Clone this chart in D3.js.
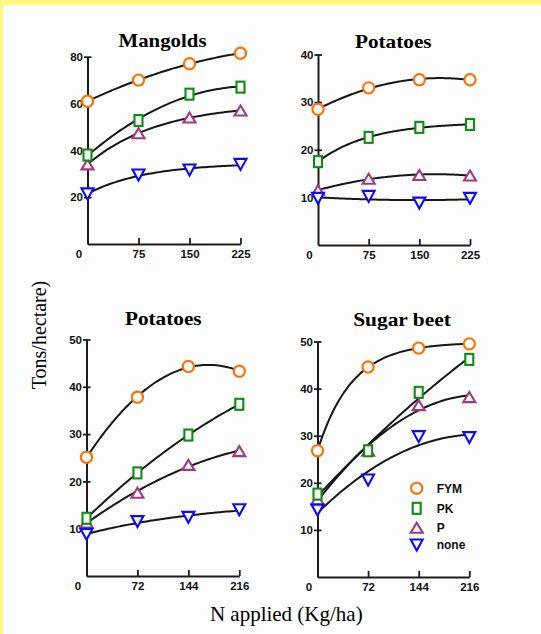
<!DOCTYPE html>
<html>
<head>
<meta charset="utf-8">
<script src="https://cdn.jsdelivr.net/npm/d3@7/dist/d3.min.js"></script>
<style>
  html, body { margin: 0; padding: 0; background: #fff; }
  svg { display: block; }
  .tick text { font-family: "Liberation Sans", Arial, sans-serif; font-weight: bold; font-size: 11.5px; fill: #111; }
</style>
</head>
<body>
<svg id="chart" width="541" height="634"></svg>
<script>
// Fertiliser treatments and their nitrogen response data (tons/hectare)
const treatments = ["FYM", "PK", "P", "none"];

const nRatesA = [0, 75, 150, 225];   // kg N/ha, first trial series
const nRatesB = [0, 72, 144, 216];   // kg N/ha, second trial series

const mangoldsFYM  = [61, 70, 77, 81.5];
const mangoldsPK   = [38, 52.7, 64, 67];
const mangoldsP    = [34, 47.3, 54, 57];
const mangoldsNone = [21.4, 29.5, 31.6, 34];

const potatoes1FYM  = [28.5, 33.0, 34.7, 34.7];
const potatoes1PK   = [17.5, 22.6, 24.7, 25.3];
const potatoes1P    = [11.5, 13.9, 14.7, 14.6];
const potatoes1None = [9.8, 10.2, 8.8, 9.8];

const potatoes2FYM  = [25.1, 37.8, 44.3, 43.3];
const potatoes2PK   = [12.2, 21.8, 29.8, 36.3];
const potatoes2P    = [11.3, 17.6, 23.5, 26.4];
const potatoes2None = [8.8, 11.5, 12.4, 14];

const sugarBeetFYM  = [26.8, 44.6, 48.6, 49.5];
const sugarBeetPK   = [17.6, 26.8, 39.2, 46.2];
const sugarBeetP    = [16.5, 26.8, 36.5, 38.2];
const sugarBeetNone = [14.2, 20.6, 29.8, 29.6];

const yTicksMangolds = [20, 40, 60, 80];
const yTicksPotatoes1 = [10, 20, 30, 40];
const yTicks50 = [10, 20, 30, 40, 50];

const colors = { FYM: "#ff6f00", PK: "#0e8c12", P: "#a03a7c", none: "#0a0aff" };

const svg = d3.select("#chart");

// page background: scanned sheet on a yellow slide
svg.append("rect").attr("width", 541).attr("height", 634).attr("fill", "#fff780");
svg.append("rect").attr("x", 3).attr("y", 5).attr("width", 538).attr("height", 629).attr("fill", "#fdfdfd");

// marker shapes, centred on their bounding box
function marker(g, kind) {
  const c = colors[kind];
  if (kind === "FYM") {
    g.append("circle").attr("r", 5.6).attr("fill", "#fff").attr("stroke", c).attr("stroke-width", 2.1);
  } else if (kind === "PK") {
    g.append("rect").attr("x", -4).attr("y", -5.5).attr("width", 8).attr("height", 11)
      .attr("fill", "#fff").attr("stroke", c).attr("stroke-width", 2.1);
  } else if (kind === "P") {
    g.append("path").attr("d", "M0,-5 L6,5 L-6,5 Z")
      .attr("fill", "#fff").attr("stroke", c).attr("stroke-width", 2.1);
  } else {
    g.append("path").attr("d", "M-6,-5.5 L6,-5.5 L0,5.5 Z")
      .attr("fill", "#fff").attr("stroke", c).attr("stroke-width", 2.1);
  }
}

// solve a small linear least-squares problem for basis functions fs
function leastSquares(xs, ys, fs) {
  const n = fs.length;
  const M = fs.map((fi) => fs.map((fj) => d3.sum(xs, x => fi(x) * fj(x))).concat([d3.sum(xs, (x, i) => fi(x) * ys[i])]));
  for (let i = 0; i < n; i++) {
    let p = i;
    for (let r = i + 1; r < n; r++) if (Math.abs(M[r][i]) > Math.abs(M[p][i])) p = r;
    [M[i], M[p]] = [M[p], M[i]];
    for (let r = 0; r < n; r++) {
      if (r === i) continue;
      const f = M[r][i] / M[i][i];
      for (let k = i; k <= n; k++) M[r][k] -= f * M[i][k];
    }
  }
  const coef = M.map((row, i) => row[n] / row[i]);
  const model = x => d3.sum(fs, (f, i) => coef[i] * f(x));
  const sse = d3.sum(xs, (x, i) => (model(x) - ys[i]) ** 2);
  return { model, sse };
}

// response curve: the better of a quadratic and an exponential (Mitscherlich) fit
function responseCurve(xs, ys) {
  let best = leastSquares(xs, ys, [() => 1, x => x, x => x * x]);
  for (let k = 0.001; k <= 0.08; k += 0.0005) {
    const fit = leastSquares(xs, ys, [() => 1, x => Math.exp(-k * x)]);
    if (fit.sse < best.sse) best = fit;
  }
  return best.model;
}

const panels = [
  { title: "Mangolds", tx: 162.5, ty: 47.3, tw: 88,
    xs: nRatesA, xr: [87.5, 240.5], yd: [0, 80], yr: [244, 56.7], yTicks: yTicksMangolds,
    series: { FYM: mangoldsFYM, PK: mangoldsPK, P: mangoldsP, none: mangoldsNone } },
  { title: "Potatoes", tx: 393.3, ty: 48.3, tw: 76.7,
    xs: nRatesA, xr: [318, 470], yd: [0, 40], yr: [245, 54.5], yTicks: yTicksPotatoes1,
    series: { FYM: potatoes1FYM, PK: potatoes1PK, P: potatoes1P, none: potatoes1None } },
  { title: "Potatoes", tx: 163.3, ty: 325, tw: 76.7,
    xs: nRatesB, xr: [86.5, 239.3], yd: [0, 50], yr: [576, 339.5], yTicks: yTicks50,
    series: { FYM: potatoes2FYM, PK: potatoes2PK, P: potatoes2P, none: potatoes2None } },
  { title: "Sugar beet", tx: 402, ty: 326, tw: 97.7,
    xs: nRatesB, xr: [317.5, 469.3], yd: [0, 50], yr: [577, 341.5], yTicks: yTicks50,
    series: { FYM: sugarBeetFYM, PK: sugarBeetPK, P: sugarBeetP, none: sugarBeetNone } }
];

panels.forEach(p => {
  const xMax = p.xs[p.xs.length - 1];
  const x = d3.scaleLinear().domain([0, xMax]).range(p.xr);
  const y = d3.scaleLinear().domain(p.yd).range(p.yr);
  const g = svg.append("g");

  // title
  g.append("text").attr("x", p.tx).attr("y", p.ty).attr("text-anchor", "middle")
    .attr("textLength", p.tw).attr("lengthAdjust", "spacingAndGlyphs")
    .style("font-family", "'Liberation Serif', 'Times New Roman', serif")
    .style("font-weight", "bold").style("font-size", "19px").attr("fill", "#000")
    .text(p.title);

  // axes
  const xAxis = d3.axisBottom(x).tickValues(p.xs).tickFormat(d3.format("d"))
    .tickSizeInner(-6).tickSizeOuter(0).tickPadding(6);
  const gx = g.append("g").attr("transform", `translate(0,${p.yr[0]})`).call(xAxis);
  gx.selectAll(".tick").filter(d => d === 0).select("line").remove();
  gx.selectAll(".tick").filter(d => d === 0).select("text").attr("dx", -9);

  const yAxis = d3.axisLeft(y).tickValues(p.yTicks).tickSizeInner(3.5).tickSizeOuter(0).tickPadding(1);
  const gy = g.append("g").attr("transform", `translate(${p.xr[0]},0)`).call(yAxis);
  gy.selectAll(".tick line").attr("x1", 4);

  [gx, gy].forEach(a => {
    a.select(".domain").attr("stroke", "#1c1c1c").attr("stroke-width", 2);
    a.selectAll(".tick line").attr("stroke", "#1c1c1c").attr("stroke-width", 1.8);
  });

  // fitted response curves
  const line = d3.line().x(d => x(d[0])).y(d => y(d[1])).curve(d3.curveBasis);
  treatments.forEach(k => {
    const f = responseCurve(p.xs, p.series[k]);
    const pts = d3.range(0, xMax + 0.001, xMax / 60).map(v => [v, f(v)]);
    g.append("path").attr("d", line(pts)).attr("fill", "none")
      .attr("stroke", "#161616").attr("stroke-width", 2);
  });

  // observed yields
  ["P", "PK", "none", "FYM"].forEach(k => {
    p.series[k].forEach((v, i) => {
      const m = g.append("g").attr("transform", `translate(${x(p.xs[i])},${y(v)})`);
      marker(m, k);
    });
  });
});

// legend inside the sugar beet panel
const legendRows = [488.3, 508.3, 527.7, 545];
treatments.forEach((k, i) => {
  const lg = svg.append("g").attr("transform", `translate(416.7,${legendRows[i]})`);
  marker(lg, k);
  lg.append("text").attr("x", 20).attr("y", 0).attr("dy", "0.36em")
    .style("font-family", "'Liberation Sans', Arial, sans-serif").style("font-weight", "bold")
    .style("font-size", "12px").attr("fill", "#111").text(k);
});

// axis titles
svg.append("text").attr("transform", "translate(46,335) rotate(-90)").attr("text-anchor", "middle")
  .style("font-family", "'Liberation Serif', 'Times New Roman', serif").style("font-size", "20px")
  .attr("fill", "#000").text("Tons/hectare)");

svg.append("text").attr("x", 286.3).attr("y", 620.7).attr("text-anchor", "middle")
  .style("font-family", "'Liberation Serif', 'Times New Roman', serif").style("font-size", "21px")
  .attr("fill", "#000").text("N applied (Kg/ha)");
</script>
</body>
</html>
